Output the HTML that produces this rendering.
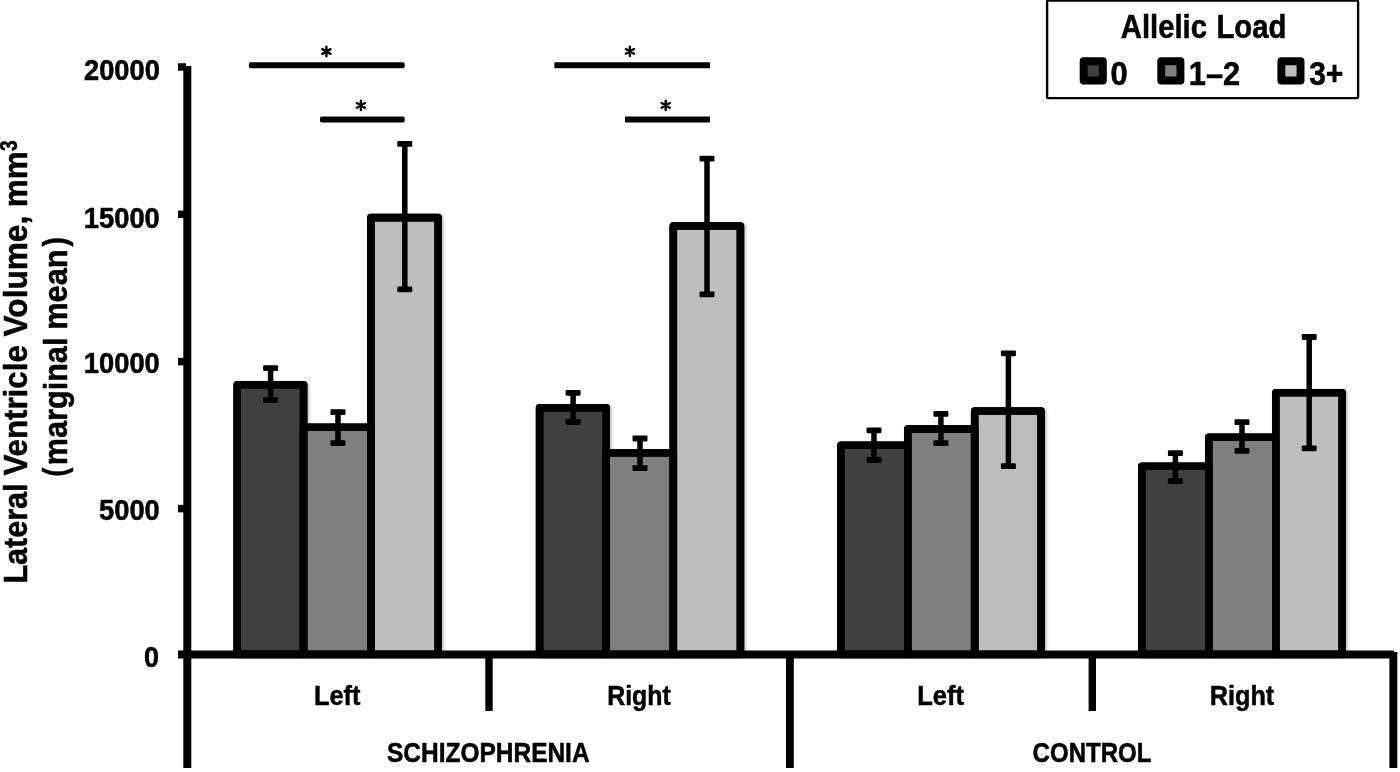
<!DOCTYPE html>
<html><head><meta charset="utf-8"><title>Lateral Ventricle Volume by Allelic Load</title>
<style>html,body{margin:0;padding:0;background:#fff;}body{width:1400px;height:772px;overflow:hidden;}svg{display:block;}text{font-family:"Liberation Sans",sans-serif;font-weight:bold;fill:#000;stroke:#000;stroke-width:0.55px;stroke-linejoin:round;}</style>
</head><body>
<svg width="1400" height="772" viewBox="0 0 1400 772">
<defs><filter id="sh" x="-10%" y="-10%" width="130%" height="120%"><feDropShadow dx="1.5" dy="1" stdDeviation="1.6" flood-color="#000" flood-opacity="0.28"/></filter><filter id="soft" x="0" y="0" width="1400" height="772" filterUnits="userSpaceOnUse"><feGaussianBlur stdDeviation="0.65"/></filter><clipPath id="cp"><rect x="0" y="0" width="1400" height="652"/></clipPath></defs>
<rect width="1400" height="772" fill="#fff"/>
<g filter="url(#soft)">
<g clip-path="url(#cp)"><g filter="url(#sh)">
<rect x="237.2" y="384.7" width="66.4" height="269.8" fill="#3f3f3f" stroke="#000" stroke-width="7.6" stroke-linejoin="round"/>
<rect x="303.6" y="427.2" width="67.3" height="227.3" fill="#7f7f7f" stroke="#000" stroke-width="7.6" stroke-linejoin="round"/>
<rect x="370.9" y="217.6" width="67.3" height="436.9" fill="#bebebe" stroke="#000" stroke-width="7.6" stroke-linejoin="round"/>
<rect x="539.6" y="407.7" width="66.6" height="246.8" fill="#3f3f3f" stroke="#000" stroke-width="7.6" stroke-linejoin="round"/>
<rect x="606.2" y="453.0" width="67.1" height="201.5" fill="#7f7f7f" stroke="#000" stroke-width="7.6" stroke-linejoin="round"/>
<rect x="673.3" y="226.0" width="67.1" height="428.5" fill="#bebebe" stroke="#000" stroke-width="7.6" stroke-linejoin="round"/>
<rect x="840.9" y="445.3" width="66.9" height="209.2" fill="#3f3f3f" stroke="#000" stroke-width="7.6" stroke-linejoin="round"/>
<rect x="907.8" y="429.1" width="66.9" height="225.4" fill="#7f7f7f" stroke="#000" stroke-width="7.6" stroke-linejoin="round"/>
<rect x="974.7" y="411.0" width="66.4" height="243.5" fill="#bebebe" stroke="#000" stroke-width="7.6" stroke-linejoin="round"/>
<rect x="1141.8" y="466.2" width="67.0" height="188.3" fill="#3f3f3f" stroke="#000" stroke-width="7.6" stroke-linejoin="round"/>
<rect x="1208.8" y="437.3" width="67.0" height="217.2" fill="#7f7f7f" stroke="#000" stroke-width="7.6" stroke-linejoin="round"/>
<rect x="1275.8" y="392.8" width="66.4" height="261.7" fill="#bebebe" stroke="#000" stroke-width="7.6" stroke-linejoin="round"/>
</g></g>
<g fill="none" stroke="#000" stroke-width="7.6" stroke-linejoin="round">
<rect x="237.2" y="384.7" width="66.4" height="269.8"/>
<rect x="303.6" y="427.2" width="67.3" height="227.3"/>
<rect x="370.9" y="217.6" width="67.3" height="436.9"/>
<rect x="539.6" y="407.7" width="66.6" height="246.8"/>
<rect x="606.2" y="453.0" width="67.1" height="201.5"/>
<rect x="673.3" y="226.0" width="67.1" height="428.5"/>
<rect x="840.9" y="445.3" width="66.9" height="209.2"/>
<rect x="907.8" y="429.1" width="66.9" height="225.4"/>
<rect x="974.7" y="411.0" width="66.4" height="243.5"/>
<rect x="1141.8" y="466.2" width="67.0" height="188.3"/>
<rect x="1208.8" y="437.3" width="67.0" height="217.2"/>
<rect x="1275.8" y="392.8" width="66.4" height="261.7"/>
</g>
<g fill="#000">
<rect x="267.85" y="368.1" width="5.5" height="31.9"/>
<rect x="263.10" y="365.20" width="15" height="5.8" rx="1.1"/>
<rect x="263.10" y="397.10" width="15" height="5.8" rx="1.1"/>
<rect x="335.25" y="412.2" width="5.5" height="30.9"/>
<rect x="330.50" y="409.30" width="15" height="5.8" rx="1.1"/>
<rect x="330.50" y="440.20" width="15" height="5.8" rx="1.1"/>
<rect x="402.05" y="143.9" width="5.5" height="145.5"/>
<rect x="397.30" y="141.00" width="15" height="5.8" rx="1.1"/>
<rect x="397.30" y="286.50" width="15" height="5.8" rx="1.1"/>
<rect x="570.35" y="392.8" width="5.5" height="29.2"/>
<rect x="565.60" y="389.90" width="15" height="5.8" rx="1.1"/>
<rect x="565.60" y="419.10" width="15" height="5.8" rx="1.1"/>
<rect x="637.25" y="438.5" width="5.5" height="29.7"/>
<rect x="632.50" y="435.60" width="15" height="5.8" rx="1.1"/>
<rect x="632.50" y="465.30" width="15" height="5.8" rx="1.1"/>
<rect x="704.25" y="158.7" width="5.5" height="135.7"/>
<rect x="699.50" y="155.80" width="15" height="5.8" rx="1.1"/>
<rect x="699.50" y="291.50" width="15" height="5.8" rx="1.1"/>
<rect x="871.25" y="430.3" width="5.5" height="29.7"/>
<rect x="866.50" y="427.40" width="15" height="5.8" rx="1.1"/>
<rect x="866.50" y="457.10" width="15" height="5.8" rx="1.1"/>
<rect x="938.15" y="413.9" width="5.5" height="29.2"/>
<rect x="933.40" y="411.00" width="15" height="5.8" rx="1.1"/>
<rect x="933.40" y="440.20" width="15" height="5.8" rx="1.1"/>
<rect x="1005.65" y="353.4" width="5.5" height="112.8"/>
<rect x="1000.90" y="350.50" width="15" height="5.8" rx="1.1"/>
<rect x="1000.90" y="463.30" width="15" height="5.8" rx="1.1"/>
<rect x="1172.65" y="453.2" width="5.5" height="27.8"/>
<rect x="1167.90" y="450.30" width="15" height="5.8" rx="1.1"/>
<rect x="1167.90" y="478.10" width="15" height="5.8" rx="1.1"/>
<rect x="1239.25" y="422.2" width="5.5" height="28.6"/>
<rect x="1234.50" y="419.30" width="15" height="5.8" rx="1.1"/>
<rect x="1234.50" y="447.90" width="15" height="5.8" rx="1.1"/>
<rect x="1306.45" y="337.0" width="5.5" height="111.3"/>
<rect x="1301.70" y="334.10" width="15" height="5.8" rx="1.1"/>
<rect x="1301.70" y="445.40" width="15" height="5.8" rx="1.1"/>
</g>
<g fill="#000">
<rect x="183.3" y="66" width="8" height="702"/>
<rect x="178" y="650.5" width="1216" height="8"/>
<rect x="178" y="63.25" width="8" height="7.5"/>
<rect x="178" y="210.55" width="8" height="7.5"/>
<rect x="178" y="357.85" width="8" height="7.5"/>
<rect x="178" y="504.85" width="8" height="7.5"/>
<rect x="485.3" y="654" width="7.4" height="57"/>
<rect x="786" y="654" width="7.8" height="114"/>
<rect x="1088.6" y="654" width="7.4" height="57"/>
<rect x="1389.4" y="652" width="7.9" height="116"/>
</g>
<g fill="#000">
<rect x="248.9" y="62.3" width="155.8" height="6" rx="1.8"/>
<rect x="320.0" y="116.6" width="84.7" height="6" rx="1.8"/>
<rect x="554.3" y="62.3" width="155.7" height="6" rx="0.8"/>
<rect x="625.0" y="116.6" width="85.0" height="6" rx="0.8"/>
</g>
<path d="M326.40 46.80L326.40 56.20M322.33 49.15L330.47 53.85M330.47 49.15L322.33 53.85" stroke="#000" stroke-width="2.4" stroke-linecap="round" fill="none"/>
<path d="M360.90 100.70L360.90 110.10M356.83 103.05L364.97 107.75M364.97 103.05L356.83 107.75" stroke="#000" stroke-width="2.4" stroke-linecap="round" fill="none"/>
<path d="M629.90 46.70L629.90 56.10M625.83 49.05L633.97 53.75M633.97 49.05L625.83 53.75" stroke="#000" stroke-width="2.4" stroke-linecap="round" fill="none"/>
<path d="M665.70 100.70L665.70 110.10M661.63 103.05L669.77 107.75M669.77 103.05L661.63 107.75" stroke="#000" stroke-width="2.4" stroke-linecap="round" fill="none"/>
<rect x="1047.1" y="0.5" width="311.0" height="97.6" rx="1" fill="#fff" stroke="#000" stroke-width="2.4"/>
<rect x="1083.65" y="61.25" width="19.2" height="19.3" fill="#3f3f3f" stroke="#000" stroke-width="7.9" stroke-linejoin="round"/>
<rect x="1161.25" y="61.25" width="19.2" height="19.3" fill="#7f7f7f" stroke="#000" stroke-width="7.9" stroke-linejoin="round"/>
<rect x="1281.35" y="61.25" width="19.2" height="19.3" fill="#bebebe" stroke="#000" stroke-width="7.9" stroke-linejoin="round"/>
<text x="84.00" y="80.00" font-size="29" text-anchor="start" textLength="75.80" lengthAdjust="spacingAndGlyphs">20000</text>
<text x="83.80" y="227.60" font-size="29" text-anchor="start" textLength="76.00" lengthAdjust="spacingAndGlyphs">15000</text>
<text x="83.80" y="373.00" font-size="29" text-anchor="start" textLength="76.00" lengthAdjust="spacingAndGlyphs">10000</text>
<text x="99.00" y="520.00" font-size="29" text-anchor="start" textLength="60.80" lengthAdjust="spacingAndGlyphs">5000</text>
<text x="144.00" y="667.30" font-size="29" text-anchor="start" textLength="15.00" lengthAdjust="spacingAndGlyphs">0</text>
<text x="314.00" y="704.70" font-size="28.5" text-anchor="start" textLength="46.40" lengthAdjust="spacingAndGlyphs">Left</text>
<text x="607.20" y="704.70" font-size="28.5" text-anchor="start" textLength="63.60" lengthAdjust="spacingAndGlyphs">Right</text>
<text x="917.20" y="704.70" font-size="28.5" text-anchor="start" textLength="46.80" lengthAdjust="spacingAndGlyphs">Left</text>
<text x="1209.80" y="704.70" font-size="28.5" text-anchor="start" textLength="64.40" lengthAdjust="spacingAndGlyphs">Right</text>
<text x="387.00" y="761.80" font-size="28" text-anchor="start" textLength="202.60" lengthAdjust="spacingAndGlyphs">SCHIZOPHRENIA</text>
<text x="1032.60" y="762.00" font-size="28" text-anchor="start" textLength="118.80" lengthAdjust="spacingAndGlyphs">CONTROL</text>
<text x="1120.80" y="37.80" font-size="33.5" text-anchor="start" textLength="86.20" lengthAdjust="spacingAndGlyphs">Allelic</text>
<text x="1216.40" y="37.80" font-size="33.5" text-anchor="start" textLength="70.00" lengthAdjust="spacingAndGlyphs">Load</text>
<text x="1110.40" y="84.70" font-size="33.5" text-anchor="start" textLength="17.20" lengthAdjust="spacingAndGlyphs">0</text>
<text x="1188.80" y="84.70" font-size="33.5" text-anchor="start" textLength="51.40" lengthAdjust="spacingAndGlyphs">1–2</text>
<text x="1309.20" y="84.70" font-size="33.5" text-anchor="start" textLength="34.20" lengthAdjust="spacingAndGlyphs">3+</text>
<g transform="translate(26.9 583.60) rotate(-90)"><text x="0.00" y="0.00" font-size="34" text-anchor="start" textLength="100.20" lengthAdjust="spacingAndGlyphs">Lateral</text></g>
<g transform="translate(26.9 475.60) rotate(-90)"><text x="0.00" y="0.00" font-size="34" text-anchor="start" textLength="130.40" lengthAdjust="spacingAndGlyphs">Ventricle</text></g>
<g transform="translate(26.9 336.40) rotate(-90)"><text x="0.00" y="0.00" font-size="34" text-anchor="start" textLength="120.60" lengthAdjust="spacingAndGlyphs">Volume,</text></g>
<g transform="translate(26.9 207.20) rotate(-90)"><text x="0.00" y="0.00" font-size="34" text-anchor="start" textLength="56.00" lengthAdjust="spacingAndGlyphs">mm</text></g>
<g transform="translate(16.5 151.00) rotate(-90)"><text x="0.00" y="0.00" font-size="23" text-anchor="start" textLength="10.60" lengthAdjust="spacingAndGlyphs">3</text></g>
<g transform="translate(65.5 476.40) rotate(-90)"><text x="0.00" y="0.00" font-size="33" text-anchor="start" textLength="8.80" lengthAdjust="spacingAndGlyphs">(</text></g>
<g transform="translate(66.8 465.20) rotate(-90)"><text x="0.00" y="0.00" font-size="34" text-anchor="start" textLength="127.60" lengthAdjust="spacingAndGlyphs">marginal</text></g>
<g transform="translate(66.8 329.80) rotate(-90)"><text x="0.00" y="0.00" font-size="34" text-anchor="start" textLength="80.40" lengthAdjust="spacingAndGlyphs">mean</text></g>
<g transform="translate(65.5 246.40) rotate(-90)"><text x="0.00" y="0.00" font-size="33" text-anchor="start" textLength="9.40" lengthAdjust="spacingAndGlyphs">)</text></g>
</g>
</svg>
</body></html>
